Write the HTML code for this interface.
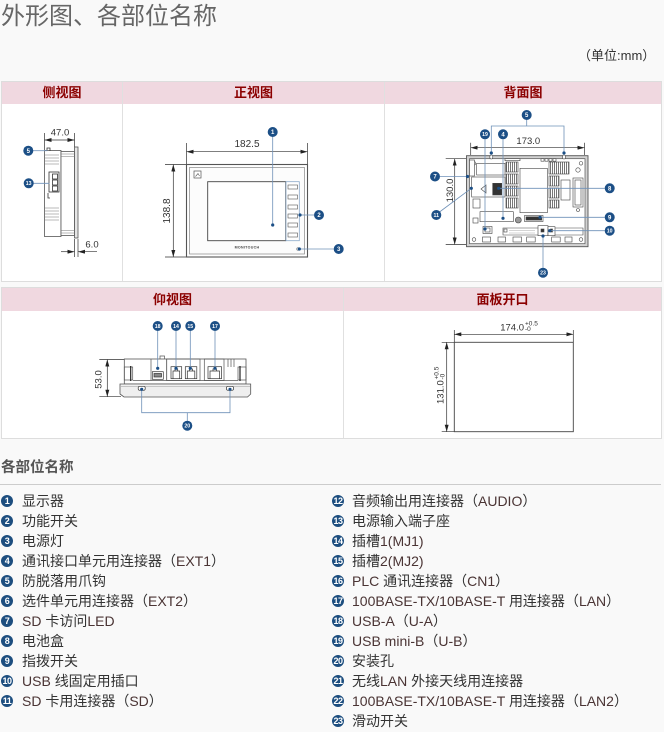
<!DOCTYPE html>
<html><head><meta charset="utf-8">
<style>
*{margin:0;padding:0;box-sizing:border-box}
html,body{width:664px;height:732px;overflow:hidden;background:#f9f9f9}
body{position:relative;font-family:"Liberation Sans","Noto Sans CJK SC",sans-serif;color:#333}
.abs{position:absolute}
.title{left:1px;top:2px;font-size:24px;line-height:30px;color:#666;white-space:nowrap}
.unit{left:578px;top:47px;font-size:13px;line-height:18px;color:#333;white-space:nowrap}
.tbl{background:#fff;border:1px solid #ddd}
.hd{background:#f0d8e0}
.ht{font-size:13px;font-weight:bold;color:#8b0000;line-height:22px;text-align:center;white-space:nowrap}
.vl{background:#e0e0e0;width:1px}
.h2{left:1px;top:458px;font-size:14.5px;font-weight:bold;color:#555;line-height:20px;white-space:nowrap}
.hr{left:0;top:484px;width:661px;height:1px;background:#ccc}
.it{position:absolute;font-size:14px;line-height:20px;white-space:nowrap;color:#333}
.it b{position:absolute;top:4px;width:12px;height:12px;border-radius:50%;background:#1d4e7f;color:#fff;font-size:9px;line-height:12px;text-align:center;font-weight:bold;font-family:"Liberation Sans",sans-serif;letter-spacing:-0.5px}
.L b{left:-21px}
.R b{left:-20px}
.l{color:#4a3434}
svg text{font-family:"Liberation Sans",sans-serif}
.dt{font-size:9.5px;fill:#333;text-anchor:middle}
.cn circle{fill:#1c4f86}
.cn text{fill:#fff;font-size:6px;font-weight:bold;text-anchor:middle}
.cn text.s{font-size:5.2px}
.ld{stroke:#6f91b8;stroke-width:0.8;fill:none}
.dot{fill:#1c4f86}
</style>
</head>
<body>
<div class="abs title">外形图、各部位名称</div>
<div class="abs unit">（单位:mm）</div>

<!-- table 1 -->
<div class="abs tbl" style="left:1px;top:81px;width:661px;height:201px"></div>
<div class="abs hd" style="left:2px;top:82px;width:659px;height:22px"></div>
<div class="abs vl" style="left:122px;top:82px;height:199px"></div>
<div class="abs vl" style="left:384px;top:82px;height:199px"></div>
<div class="abs ht" style="left:2px;top:82px;width:120px">侧视图</div>
<div class="abs ht" style="left:123px;top:82px;width:261px">正视图</div>
<div class="abs ht" style="left:385px;top:82px;width:276px">背面图</div>

<!-- table 2 -->
<div class="abs tbl" style="left:1px;top:287px;width:661px;height:152px"></div>
<div class="abs hd" style="left:2px;top:288px;width:659px;height:23px"></div>
<div class="abs vl" style="left:343px;top:288px;height:150px"></div>
<div class="abs ht" style="left:2px;top:288.5px;width:341px">仰视图</div>
<div class="abs ht" style="left:344px;top:288.5px;width:317px">面板开口</div>

<svg class="abs" style="left:0;top:0" width="664" height="440" viewBox="0 0 664 440">
<defs>
<marker id="ar" viewBox="0 0 7 4" refX="7" refY="2" markerWidth="7" markerHeight="4" markerUnits="userSpaceOnUse" orient="auto-start-reverse"><path d="M0,0L7,2L0,4z" fill="#222"/></marker>
<pattern id="vs" width="2" height="4" patternUnits="userSpaceOnUse"><rect width="2" height="4" fill="#fff"/><line x1="0.6" y1="0" x2="0.6" y2="4" stroke="#555" stroke-width="0.8"/></pattern>
</defs>

<!-- ============ SIDE VIEW ============ -->
<g stroke="#333" stroke-width="0.7" fill="none">
<path d="M44.5,133V150M74.5,133V147"/>
<line x1="44.5" y1="140" x2="74.5" y2="140" marker-start="url(#ar)" marker-end="url(#ar)"/>
<path d="M74.5,239V257M78,239V257"/>
<line x1="61" y1="251.7" x2="74.5" y2="251.7" marker-end="url(#ar)"/>
<line x1="97" y1="251.7" x2="78" y2="251.7" marker-end="url(#ar)"/>
</g>
<text x="60" y="135.5" class="dt">47.0</text>
<text x="92" y="247.5" class="dt">6.0</text>
<g stroke="#555" stroke-width="0.8" fill="#fff">
<rect x="44.5" y="150.5" width="16.5" height="86"/>
<rect x="61" y="151.5" width="13.5" height="84"/>
<rect x="74.5" y="147" width="3.5" height="91" fill="#e6e6e6"/>
</g>
<g stroke="#777" stroke-width="0.6">
<path d="M45,155H59M45,158H59M45,161H59M45,164H59M45,208H59M45,211H59M45,214H59M45,217H59M45,220H59M61,154H74.5M61,156.5H74.5M61,233H74.5M61,230.5H74.5"/>
</g>
<g stroke="#333" stroke-width="0.8" fill="#fff">
<rect x="49" y="172" width="10" height="20"/>
<rect x="52.5" y="174" width="5" height="5"/>
<rect x="52.5" y="180" width="5" height="5"/>
<rect x="52.5" y="186" width="5" height="5"/>
<path d="M47,151V148H50V151" fill="none"/>
<path d="M48,193V198H50" fill="none"/>
</g>
<line class="ld" x1="33" y1="150.7" x2="47.5" y2="150.7"/>
<line class="ld" x1="33" y1="183.3" x2="49.5" y2="183.3"/>
<g class="cn">
<circle cx="28.3" cy="150.7" r="5"/><text x="28.3" y="152.8">5</text>
<circle cx="28.7" cy="183.3" r="5"/><text class="s" x="28.7" y="185.1">13</text>
</g>

<!-- ============ FRONT VIEW ============ -->
<g stroke="#333" stroke-width="0.7" fill="none">
<path d="M186.5,143V164M307.5,143V164"/>
<line x1="186.5" y1="151.7" x2="307.5" y2="151.7" marker-start="url(#ar)" marker-end="url(#ar)"/>
<path d="M165,164.5H186M165,257H186"/>
<line x1="173.3" y1="164.5" x2="173.3" y2="257" marker-start="url(#ar)" marker-end="url(#ar)"/>
</g>
<text x="247" y="147" class="dt" style="font-size:10px">182.5</text>
<text transform="translate(170,211) rotate(-90)" class="dt" style="font-size:10px">138.8</text>
<rect x="186.5" y="164.5" width="121" height="92.5" fill="#fff" stroke="#555" stroke-width="1.1"/>
<rect x="189.5" y="167.5" width="115" height="86.5" fill="#fcfcfc" stroke="#888" stroke-width="0.7"/>
<rect x="194" y="171" width="7" height="7" fill="#fff" stroke="#555" stroke-width="0.7"/>
<path d="M195.5,176.5L198,173.5L199.5,176" stroke="#555" stroke-width="0.6" fill="none"/>
<rect x="207.7" y="181.7" width="78" height="59" fill="#fff" stroke="#444" stroke-width="0.9"/>
<rect x="286" y="181.7" width="13.3" height="59" fill="#fff" stroke="#8aa8c8" stroke-width="0.8"/>
<g fill="#fff" stroke="#555" stroke-width="0.6">
<rect x="288" y="185" width="9.5" height="4"/>
<rect x="288" y="195" width="9.5" height="4"/>
<rect x="288" y="205" width="9.5" height="4"/>
<rect x="288" y="214" width="9.5" height="4"/>
<rect x="288" y="223" width="9.5" height="4"/>
<rect x="288" y="233" width="9.5" height="4"/>
</g>
<text x="247" y="248.3" style="font-size:3.6px;fill:#444;text-anchor:middle;font-weight:bold;letter-spacing:0.3px">MONITOUCH</text>
<circle cx="298" cy="249" r="1.3" fill="#fff" stroke="#777" stroke-width="0.6"/>
<line class="ld" x1="272.7" y1="137" x2="272.7" y2="225"/>
<line class="ld" x1="300" y1="215" x2="314" y2="215"/>
<line class="ld" x1="299.3" y1="249" x2="333.7" y2="249"/>
<circle class="dot" cx="272.7" cy="225" r="1.6"/>
<circle class="dot" cx="300" cy="215" r="1.6"/>
<circle class="dot" cx="299.3" cy="249" r="1.6"/>
<g class="cn">
<circle cx="272.7" cy="132" r="5"/><text x="272.7" y="134.1">1</text>
<circle cx="319" cy="215" r="5"/><text x="319" y="217.1">2</text>
<circle cx="338.7" cy="249" r="5"/><text x="338.7" y="251.1">3</text>
</g>

<!-- ============ BACK VIEW ============ -->
<g stroke="#333" stroke-width="0.7" fill="none">
<path d="M470.7,142.7V155M584.5,142.7V155"/>
<line x1="470.7" y1="147.7" x2="584.5" y2="147.7" marker-start="url(#ar)" marker-end="url(#ar)"/>
<path d="M445.7,158.7H466M445.7,244.5H466"/>
<line x1="454.7" y1="158.7" x2="454.7" y2="244.5" marker-start="url(#ar)" marker-end="url(#ar)"/>
</g>
<text x="528.3" y="144" class="dt">173.0</text>
<text transform="translate(453,190.5) rotate(-90)" class="dt">130.0</text>
<rect x="466.5" y="155.7" width="121.5" height="91" fill="#d2d2d2" stroke="#555" stroke-width="0.9"/>
<rect x="469.5" y="158.7" width="115.5" height="85" fill="#fff" stroke="#555" stroke-width="0.7"/>
<g stroke="#444" stroke-width="0.6" fill="#fff">
<circle cx="474" cy="163.3" r="1.8"/><circle cx="581" cy="163.3" r="1.8"/>
<circle cx="474" cy="239.5" r="1.8"/><circle cx="581" cy="239.5" r="1.8"/>
<ellipse cx="491.3" cy="157" rx="1.5" ry="2"/><ellipse cx="564" cy="157" rx="1.5" ry="2"/>
<rect x="505" y="158.7" width="15" height="2"/>
<rect x="541" y="158.7" width="3" height="2.5"/><rect x="545" y="158.7" width="3" height="2.5"/><rect x="549" y="158.7" width="3" height="2.5"/><rect x="553" y="158.7" width="3" height="2.5"/>
<rect x="469.5" y="160" width="5" height="16"/>
<rect x="476.7" y="163.3" width="28.3" height="11.7"/>
<rect x="471.7" y="177" width="33.3" height="20"/>
<path d="M481,189L486,185L486,193Z"/>
<rect x="492.7" y="183.3" width="9" height="11.7" fill="#333"/>
<rect x="506" y="162" width="12" height="10" fill="url(#vs)"/>
<rect x="506" y="174" width="12" height="10" fill="url(#vs)"/>
<rect x="506" y="186" width="12" height="10" fill="url(#vs)"/>
<rect x="506" y="198" width="12" height="10" fill="url(#vs)"/>
<rect x="520" y="168.3" width="27.3" height="44.4"/>
<rect x="549" y="162" width="20" height="12" fill="url(#vs)"/>
<rect x="549" y="176" width="10" height="10" fill="url(#vs)"/>
<rect x="549" y="188" width="10" height="10" fill="url(#vs)"/>
<rect x="549" y="200" width="10" height="8" fill="url(#vs)"/>
<rect x="561" y="180" width="9" height="20"/>
<rect x="573" y="178" width="10" height="29"/>
<rect x="575" y="180" width="6" height="25"/>
<circle cx="578" cy="210" r="1.5"/>
<circle cx="578" cy="170" r="2.2"/>
<rect x="473" y="199" width="7" height="9"/>
<rect x="473" y="218" width="5" height="5"/>
<rect x="480" y="211.7" width="33.3" height="10"/>
<circle cx="518.3" cy="220" r="3" fill="#999"/>
<rect x="524.5" y="215.5" width="18.5" height="6"/>
<rect x="526" y="216.8" width="15.7" height="3.3" fill="#333"/>
<path d="M503,228H583V235H503Z" fill="none"/>
<rect x="483" y="226.5" width="9" height="7"/>
<rect x="485" y="228" width="5" height="4"/>
<rect x="504" y="229" width="3" height="3"/>
<rect x="538" y="225.7" width="10" height="10"/>
<rect x="548" y="226.7" width="7" height="9"/>
<rect x="541" y="229" width="3" height="3" fill="#333"/>
<rect x="550.5" y="229" width="2" height="3" fill="#333"/>
<rect x="482.5" y="237" width="8" height="5"/>
<rect x="498" y="237" width="7.5" height="5"/>
<rect x="513" y="237" width="8.5" height="5"/>
<rect x="526.7" y="237" width="8.5" height="5"/>
<rect x="551.7" y="237" width="8.5" height="5"/>
<rect x="565" y="237" width="7" height="5"/>
</g>
<path d="M509,230.5H535M509,233H535" stroke="#aaa" stroke-width="0.6"/>
<path class="ld" d="M526.7,120V126M491.3,153V126H564V153"/>
<line class="ld" x1="485" y1="139.3" x2="485" y2="229"/>
<line class="ld" x1="503" y1="139.3" x2="503" y2="218.3"/>
<line class="ld" x1="440" y1="176.5" x2="467.5" y2="176.5"/>
<line class="ld" x1="439.5" y1="212" x2="471.3" y2="188.3"/>
<line class="ld" x1="498.7" y1="188.3" x2="604.7" y2="188.3"/>
<line class="ld" x1="540" y1="217.3" x2="604.7" y2="217.3"/>
<line class="ld" x1="549.7" y1="230.7" x2="604.7" y2="230.7"/>
<line class="ld" x1="543" y1="236" x2="543" y2="267.7"/>
<g class="dot">
<circle cx="491.3" cy="153" r="1.6"/><circle cx="564" cy="153" r="1.6"/>
<circle cx="485" cy="229" r="1.6"/><circle cx="503" cy="218.3" r="1.6"/>
<circle cx="467.5" cy="176.5" r="1.6"/><circle cx="471.3" cy="188.3" r="1.6"/>
<circle cx="498.7" cy="188.3" r="1.6"/><circle cx="540" cy="217.3" r="1.6"/>
<circle cx="549.7" cy="230.7" r="1.6"/><circle cx="543" cy="236" r="1.6"/>
</g>
<g class="cn">
<circle cx="526.7" cy="115" r="5"/><text x="526.7" y="117.1">5</text>
<circle cx="485" cy="134.3" r="5"/><text class="s" x="485" y="136.1">19</text>
<circle cx="503" cy="134.3" r="5"/><text x="503" y="136.4">4</text>
<circle cx="435" cy="176.5" r="5"/><text x="435" y="178.6">7</text>
<circle cx="436.3" cy="215" r="5"/><text class="s" x="436.3" y="216.8">11</text>
<circle cx="609.7" cy="188.3" r="5"/><text x="609.7" y="190.4">8</text>
<circle cx="609.7" cy="217.3" r="5"/><text x="609.7" y="219.4">9</text>
<circle cx="609.7" cy="230.7" r="5"/><text class="s" x="609.7" y="232.5">10</text>
<circle cx="543" cy="272.7" r="5"/><text class="s" x="543" y="274.5">23</text>
</g>

<!-- ============ BOTTOM VIEW ============ -->
<g stroke="#333" stroke-width="0.7" fill="none">
<path d="M99.3,359.5H124M99.3,396.7H121"/>
<line x1="107.3" y1="359.5" x2="107.3" y2="396.7" marker-start="url(#ar)" marker-end="url(#ar)"/>
</g>
<text transform="translate(101.5,379.5) rotate(-90)" class="dt">53.0</text>
<rect x="124.3" y="359" width="121.7" height="25" fill="#fff" stroke="#555" stroke-width="0.8"/>
<path d="M120,384H250.7V394L247.5,397H124L120,394Z" fill="#efefef" stroke="#555" stroke-width="0.8"/>
<line x1="121" y1="386.5" x2="250" y2="386.5" stroke="#999" stroke-width="0.5"/>
<g stroke="#555" stroke-width="0.7" fill="none">
<rect x="124.3" y="367" width="8.4" height="13"/>
<line x1="130.7" y1="366" x2="130.7" y2="381" stroke="#222" stroke-width="1.2"/>
<rect x="238" y="367" width="8" height="13"/>
<line x1="240" y1="366" x2="240" y2="381" stroke="#222" stroke-width="1.2"/>
<line x1="133" y1="380.5" x2="238" y2="380.5"/>
<path d="M151,359V380.5M166.7,359V380.5"/>
<path d="M160,359V356H164.5V359"/>
<rect x="166.7" y="359" width="33.3" height="21.5"/>
<rect x="204.3" y="359" width="19.7" height="21.5"/>
<path d="M228,359V367M231,359V367M234,359V367"/>
</g>
<g stroke="#333" stroke-width="0.7" fill="#fff">
<rect x="152.3" y="371.7" width="11" height="7.6"/>
<rect x="154" y="373.5" width="7.5" height="3.5" fill="#888"/>
<rect x="171" y="366.7" width="10.7" height="12"/>
<path d="M173,378.7V371H179.7V378.7M175,371V369H177.7V371" fill="none"/>
<rect x="185.3" y="366.7" width="11.5" height="12"/>
<path d="M187.3,378.7V371H194.8V378.7M189.5,371V369H192.5V371" fill="none"/>
<rect x="208" y="366.7" width="13.5" height="12"/>
<path d="M210,378.7V371H219.5V378.7M213,371V369H216.5V371" fill="none"/>
<rect x="138.2" y="386.3" width="7" height="4" rx="1.5"/>
<rect x="226.5" y="386.3" width="7" height="4" rx="1.5"/>
</g>
<path class="ld" d="M157.7,331V368.3M176,331V368.3M190.3,331V368.3M215,331V368.3"/>
<path class="ld" d="M187.3,420.7V412.7M141.7,389.3V412.7H230V389.3"/>
<g class="dot">
<circle cx="157.7" cy="368.3" r="1.6"/><circle cx="176" cy="368.3" r="1.6"/>
<circle cx="190.3" cy="368.3" r="1.6"/><circle cx="215" cy="368.3" r="1.6"/>
<circle cx="141.7" cy="389.3" r="1.6"/><circle cx="230" cy="389.3" r="1.6"/>
</g>
<g class="cn">
<circle cx="157.7" cy="326" r="5"/><text class="s" x="157.7" y="327.8">18</text>
<circle cx="176" cy="326" r="5"/><text class="s" x="176" y="327.8">14</text>
<circle cx="190.3" cy="326" r="5"/><text class="s" x="190.3" y="327.8">15</text>
<circle cx="215" cy="326" r="5"/><text class="s" x="215" y="327.8">17</text>
<circle cx="187.3" cy="425.7" r="5"/><text class="s" x="187.3" y="427.5">20</text>
</g>

<!-- ============ PANEL OPENING ============ -->
<rect x="454.3" y="342.3" width="119" height="89.4" fill="none" stroke="#444" stroke-width="0.9"/>
<g stroke="#333" stroke-width="0.7" fill="none">
<path d="M454.3,330V342M573.3,330V342"/>
<line x1="454.3" y1="334.3" x2="573.3" y2="334.3" marker-start="url(#ar)" marker-end="url(#ar)"/>
<path d="M441.7,342.3H454M441.7,431.7H454"/>
<line x1="446.7" y1="342.3" x2="446.7" y2="431.7" marker-start="url(#ar)" marker-end="url(#ar)"/>
</g>
<text x="524" y="330.3" class="dt" style="text-anchor:end">174.0</text>
<text x="525" y="325.5" style="font-size:6.5px;fill:#333">+0.5</text>
<text x="525" y="331.2" style="font-size:6.5px;fill:#333">-0</text>
<g transform="translate(443.5,404) rotate(-90)">
<text x="0" y="0" style="font-size:9.5px;fill:#333">131.0</text>
<text x="24.5" y="-5" style="font-size:6.5px;fill:#333">+0.5</text>
<text x="24.5" y="0.8" style="font-size:6.5px;fill:#333">-0</text>
</g>
</svg>

<div class="abs h2">各部位名称</div>
<div class="abs hr"></div>

<!-- left column -->
<div class="it L" style="left:22px;top:491px"><b>1</b>显示器</div>
<div class="it L" style="left:22px;top:511px"><b>2</b>功能开关</div>
<div class="it L" style="left:22px;top:531px"><b>3</b>电源灯</div>
<div class="it L" style="left:22px;top:551px"><b>4</b>通讯接口单元用连接器（<span class="l">EXT1</span>）</div>
<div class="it L" style="left:22px;top:571px"><b>5</b>防脱落用爪钩</div>
<div class="it L" style="left:22px;top:591px"><b>6</b>选件单元用连接器（<span class="l">EXT2</span>）</div>
<div class="it L" style="left:22px;top:611px"><b>7</b><span class="l">SD </span>卡访问<span class="l">LED</span></div>
<div class="it L" style="left:22px;top:631px"><b>8</b>电池盒</div>
<div class="it L" style="left:22px;top:651px"><b>9</b>指拨开关</div>
<div class="it L" style="left:22px;top:671px"><b>10</b><span class="l">USB </span>线固定用插口</div>
<div class="it L" style="left:22px;top:691px"><b>11</b><span class="l">SD </span>卡用连接器（<span class="l">SD</span>）</div>

<!-- right column -->
<div class="it R" style="left:352px;top:491px"><b>12</b>音频输出用连接器（<span class="l">AUDIO</span>）</div>
<div class="it R" style="left:352px;top:511px"><b>13</b>电源输入端子座</div>
<div class="it R" style="left:352px;top:531px"><b>14</b>插槽<span class="l">1(MJ1)</span></div>
<div class="it R" style="left:352px;top:551px"><b>15</b>插槽<span class="l">2(MJ2)</span></div>
<div class="it R" style="left:352px;top:571px"><b>16</b><span class="l">PLC </span>通讯连接器（<span class="l">CN1</span>）</div>
<div class="it R" style="left:352px;top:591px"><b>17</b><span class="l">100BASE-TX/10BASE-T </span>用连接器（<span class="l">LAN</span>）</div>
<div class="it R" style="left:352px;top:611px"><b>18</b><span class="l">USB-A</span>（<span class="l">U-A</span>）</div>
<div class="it R" style="left:352px;top:631px"><b>19</b><span class="l">USB mini-B</span>（<span class="l">U-B</span>）</div>
<div class="it R" style="left:352px;top:651px"><b>20</b>安装孔</div>
<div class="it R" style="left:352px;top:671px"><b>21</b>无线<span class="l">LAN </span>外接天线用连接器</div>
<div class="it R" style="left:352px;top:691px"><b>22</b><span class="l">100BASE-TX/10BASE-T </span>用连接器（<span class="l">LAN2</span>）</div>
<div class="it R" style="left:352px;top:711px"><b>23</b>滑动开关</div>
</body></html>
